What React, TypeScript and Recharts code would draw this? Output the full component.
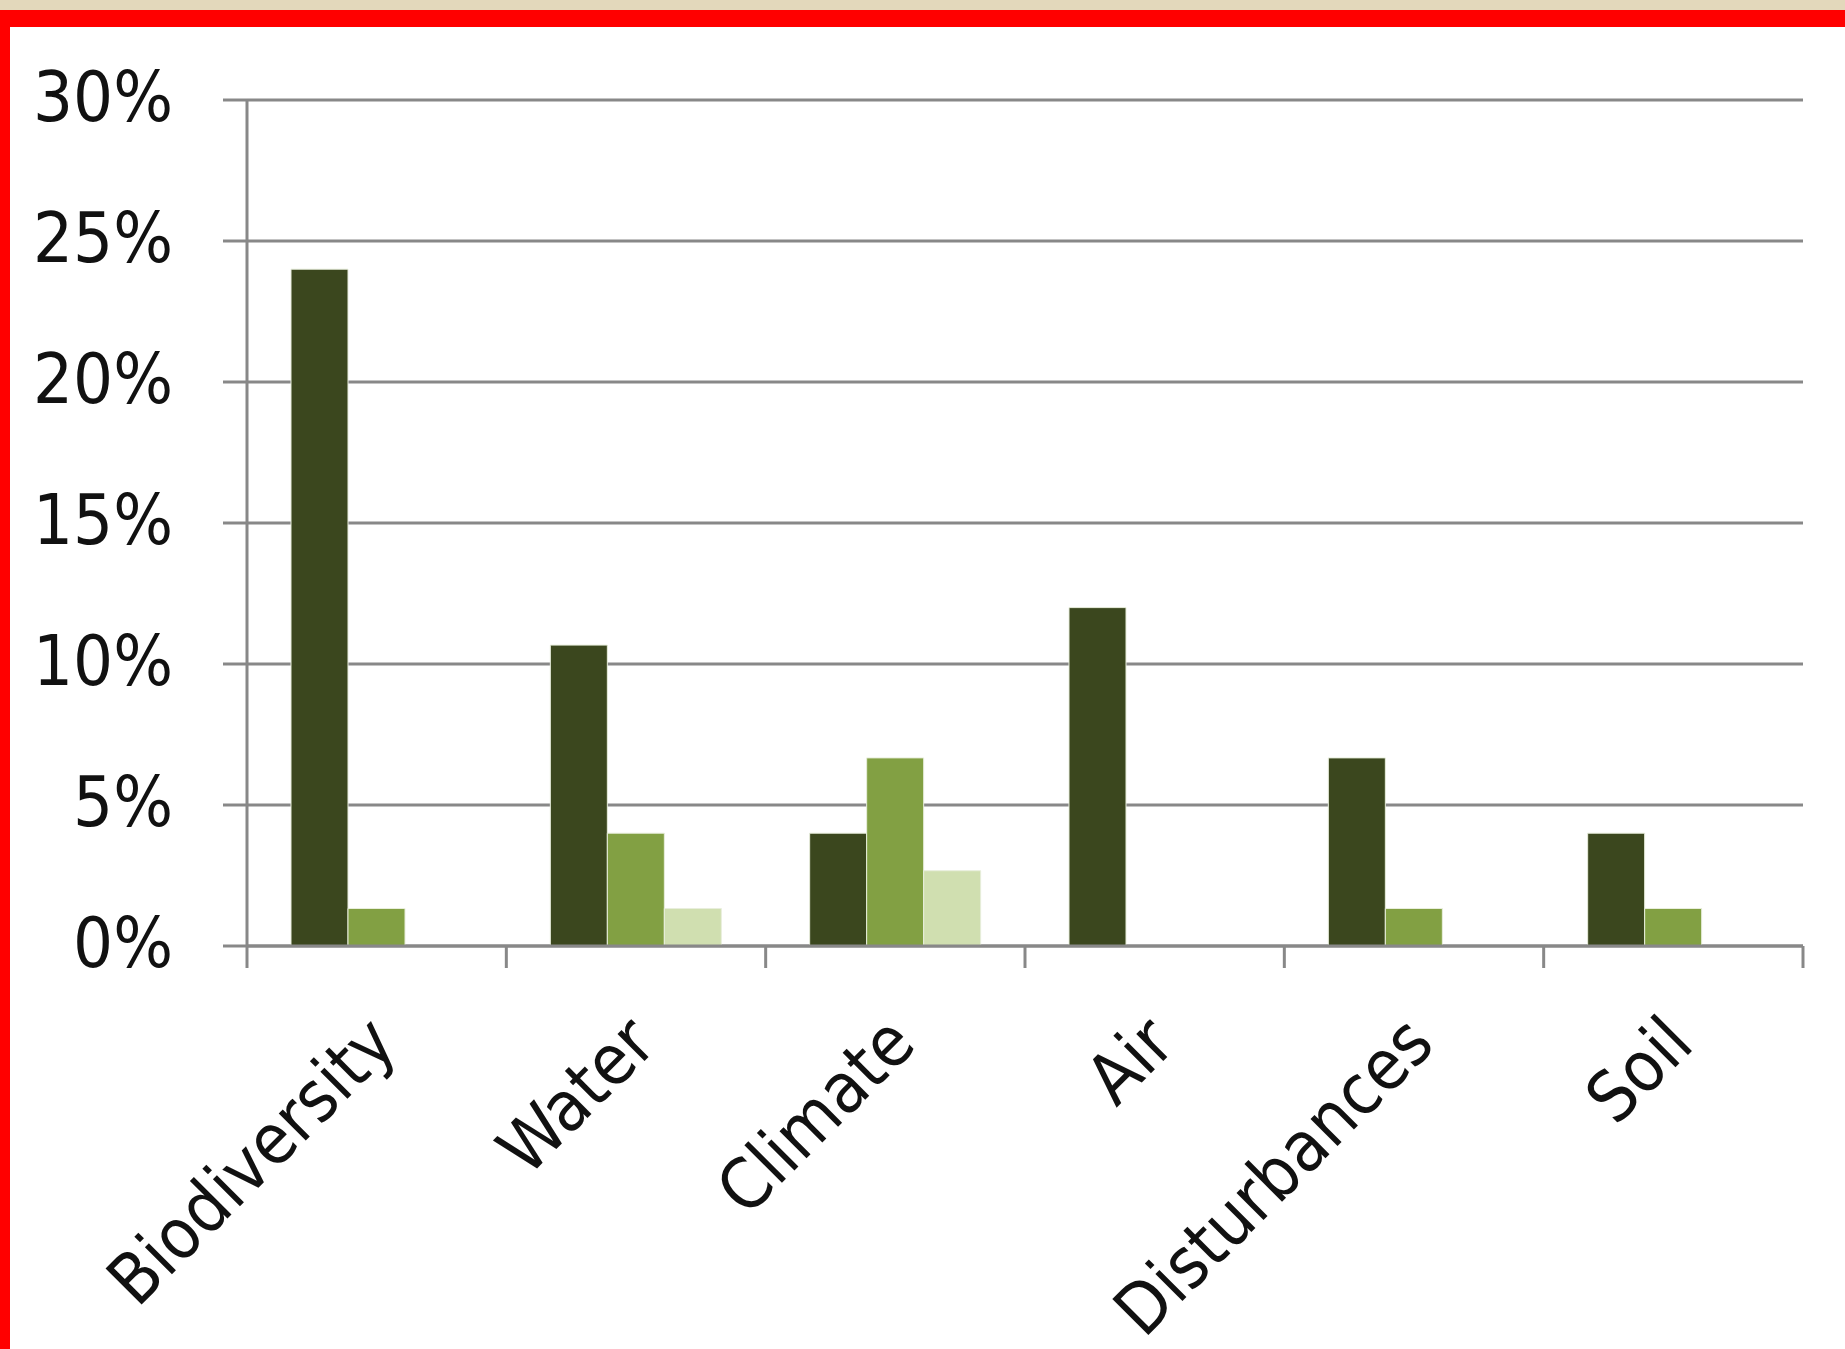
import React from "react";
import { BarChart, Bar, XAxis, YAxis, CartesianGrid } from "recharts";

// Share of indicators per environmental theme (percent)
const categories = ["Biodiversity", "Water", "Climate", "Air", "Disturbances", "Soil"];
const seriesDark = [24, 10.67, 4, 12, 6.67, 4];
const seriesMid = [1.33, 4, 6.67, 0, 1.33, 1.33];
const seriesLight = [0, 1.33, 2.67, 0, 0, 0];
const yTicks = [0, 5, 10, 15, 20, 25, 30];

const data = categories.map((name, i) => ({
  name,
  dark: seriesDark[i],
  mid: seriesMid[i],
  light: seriesLight[i],
}));

const W = 1845;
const H = 1349;
const PLOT_LEFT = 247;
const PLOT_RIGHT = 1803;
const PLOT_TOP = 100;
const PLOT_BOTTOM = 946;
const BAND = (PLOT_RIGHT - PLOT_LEFT) / categories.length;

const FONT = "'DejaVu Sans Condensed', 'DejaVu Sans', sans-serif";
const FONT_SIZE = 70;
const GRID = "#888888";

const CategoryTick = (props: any) => {
  const { x, y, payload, index } = props;
  const left = x - BAND / 2;
  const right = x + BAND / 2;
  return (
    <g>
      <line x1={left} y1={y} x2={left} y2={y + 22} stroke={GRID} strokeWidth={3} />
      {index === categories.length - 1 && (
        <line x1={right} y1={y} x2={right} y2={y + 22} stroke={GRID} strokeWidth={3} />
      )}
      <text
        transform={`translate(${x - 14},${y + 64}) rotate(-45)`}
        textAnchor="end"
        dominantBaseline="hanging"
        fontFamily={FONT}
        fontSize={FONT_SIZE}
        fill="#111111"
      >
        {payload.value}
      </text>
    </g>
  );
};

const PercentTick = (props: any) => {
  const { x, y, payload } = props;
  return (
    <text
      x={x}
      y={y - 4}
      dy="0.355em"
      textAnchor="end"
      fontFamily={FONT}
      fontSize={FONT_SIZE}
      fill="#111111"
    >
      {`${payload.value}%`}
    </text>
  );
};

export default function App() {
  return (
    <div
      style={{
        position: "absolute",
        left: 0,
        top: 0,
        width: W,
        height: H,
        background: "#ffffff",
        overflow: "hidden",
      }}
    >
      <div style={{ position: "absolute", left: 0, top: 0, width: W, height: 10, background: "#E3D8BB" }} />
      <div style={{ position: "absolute", left: 0, top: 10, width: W, height: 17, background: "#FF0000" }} />
      <div style={{ position: "absolute", left: 0, top: 10, width: 10, height: H - 10, background: "#FF0000" }} />
      <div style={{ position: "absolute", left: 0, top: 0 }}>
        <BarChart
          width={W}
          height={H}
          data={data}
          margin={{ top: PLOT_TOP, right: W - PLOT_RIGHT, left: 0, bottom: 0 }}
          barCategoryGap={44}
          barGap={0}
        >
          <CartesianGrid vertical={false} stroke={GRID} strokeWidth={3} />
          <XAxis
            dataKey="name"
            height={H - PLOT_BOTTOM}
            axisLine={{ stroke: GRID, strokeWidth: 3 }}
            tickLine={false}
            tickSize={0}
            tickMargin={0}
            interval={0}
            tick={<CategoryTick />}
          />
          <YAxis
            width={PLOT_LEFT}
            domain={[0, 30]}
            ticks={yTicks}
            interval={0}
            axisLine={{ stroke: GRID, strokeWidth: 3 }}
            tickLine={{ stroke: GRID, strokeWidth: 3 }}
            tickSize={24}
            tickMargin={50}
            tick={<PercentTick />}
          />
          <Bar dataKey="dark" fill="#3B471E" stroke="#E8EEDC" strokeWidth={1} isAnimationActive={false} />
          <Bar dataKey="mid" fill="#82A043" stroke="#E8EEDC" strokeWidth={1} isAnimationActive={false} />
          <Bar dataKey="light" fill="#D0DFB0" stroke="#E8EEDC" strokeWidth={1} isAnimationActive={false} />
        </BarChart>
      </div>
    </div>
  );
}
